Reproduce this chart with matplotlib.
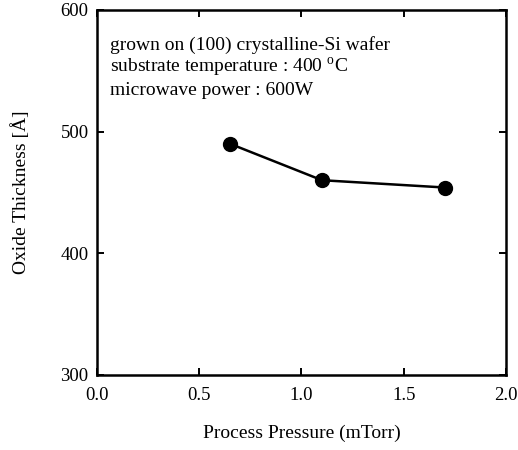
import matplotlib
matplotlib.use("Agg")
import matplotlib.pyplot as plt

# data
pressure_mtorr = [0.65, 1.10, 1.70]
oxide_thickness = [490, 460, 454]

x_ticks = [0.0, 0.5, 1.0, 1.5, 2.0]
y_ticks = [300, 400, 500, 600]

notes = [
    "grown on (100) crystalline-Si wafer",
    r"substrate temperature : 400 $^{\mathrm{o}}$C",
    "microwave power : 600W",
]

plt.rcParams["font.family"] = ["Liberation Serif", "DejaVu Serif"]
plt.rcParams["mathtext.fontset"] = "custom"
plt.rcParams["mathtext.rm"] = "Liberation Serif"

fig = plt.figure(figsize=(5.18, 4.5), dpi=100)
ax = fig.add_axes([0.187, 0.167, 0.790, 0.811])

ax.plot(pressure_mtorr, oxide_thickness, color="black", lw=1.8,
        marker="o", ms=10, mfc="black", mec="black")

ax.set_xlim(0.0, 2.0)
ax.set_ylim(300, 600)
ax.set_xticks(x_ticks)
ax.set_xticklabels([f"{v:.1f}" for v in x_ticks])
ax.set_yticks(y_ticks)
ax.tick_params(direction="in", top=True, right=True, length=5, width=1.4,
               labelsize=13.5)
ax.tick_params(axis="x", pad=9)
ax.tick_params(axis="y", pad=6)
for s in ax.spines.values():
    s.set_linewidth(1.8)

ax.set_xlabel("Process Pressure (mTorr)", fontsize=14, labelpad=15)
ax.set_ylabel("Oxide Thickness [Å]", fontsize=14, labelpad=22)

for i, t in enumerate(notes):
    ax.text(0.032, 0.905 - i * 0.063, t, transform=ax.transAxes,
            fontsize=14, va="center", ha="left")

fig.savefig("out.png", dpi=100)
